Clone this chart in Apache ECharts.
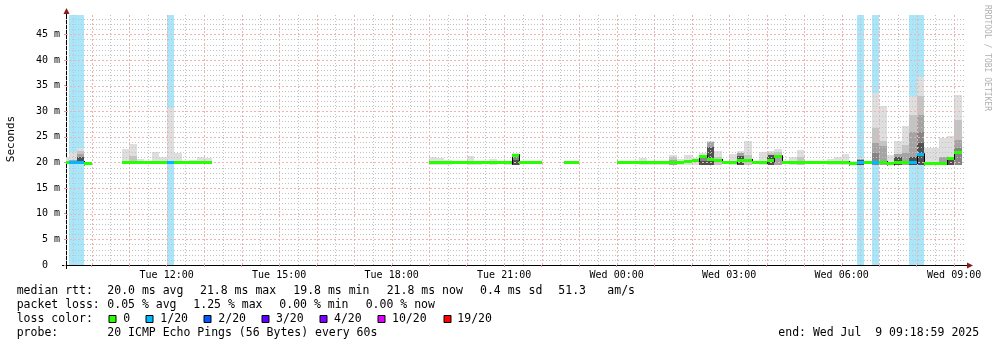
<!DOCTYPE html>
<html><head><meta charset="utf-8">
<script src="https://cdn.jsdelivr.net/npm/echarts@6/dist/echarts.min.js"></script>
<style>html,body{margin:0;padding:0;background:#fff}#c{width:997px;height:347px}</style>
</head><body><div id="c"></div>
<script>
// ---- time frame (hours since Tue 00:00) ----
const START_HOUR = 9 + 18/60 + 59/3600;   // Tue 09:18:59
const END_HOUR = START_HOUR + 24;          // Wed 09:18:59
const FIRST_BUCKET = 9.2;                  // Tue 09:12, 12-minute buckets
const BUCKET_H = 0.2;
const Y_MAX = 48.76;

const xTickHours = [12, 15, 18, 21, 24, 27, 30, 33];
const yTickValues = [0, 5, 10, 15, 20, 25, 30, 35, 40, 45];

// ---- per-bucket data (ms), bucket i starts at FIRST_BUCKET + i*BUCKET_H ----
const median = [
  20.0,20.0,20.0,19.7,null,null,null,null,20.0,20.0,
  20.0,20.0,20.0,20.0,20.0,20.0,20.0,20.0,20.0,20.0,
  null,null,null,null,null,null,null,null,null,null,
  null,null,null,null,null,null,null,null,null,null,
  null,null,null,null,null,null,null,null,null,19.9,
  19.9,19.9,19.9,19.9,19.9,19.9,19.9,19.9,19.9,19.9,
  21.3,19.9,19.9,19.9,null,null,null,19.9,19.9,null,
  null,null,null,null,19.9,19.9,19.9,19.9,19.9,19.9,
  19.9,20.0,20.0,20.2,20.3,21.1,20.6,20.4,20.0,20.0,
  20.4,20.4,20.0,20.0,20.3,21.1,20.0,20.0,20.0,20.0,
  20.0,20.0,20.0,20.0,20.0,19.7,19.9,20.0,20.0,20.0,
  19.7,20.0,20.0,20.0,21.5,19.7,19.7,19.8,20.8,21.9
];
const lossCount = [
  0,1,1,0,0,0,0,0,0,0,
  0,0,0,0,1,0,0,0,0,0,
  0,0,0,0,0,0,0,0,0,0,
  0,0,0,0,0,0,0,0,0,0,
  0,0,0,0,0,0,0,0,0,0,
  0,0,0,0,0,0,0,0,0,0,
  0,0,0,0,0,0,0,0,0,0,
  0,0,0,0,0,0,0,0,0,0,
  0,0,0,0,0,0,0,0,0,0,
  0,0,0,0,0,0,0,0,0,0,
  0,0,0,0,0,0,1,0,1,0,
  0,0,0,1,1,0,0,0,0,0
];
const smokeLo = [
  19.7,19.7,19.7,null,null,null,null,null,19.7,19.7,
  19.7,null,19.7,19.7,19.7,19.7,null,19.7,19.7,19.7,
  null,null,null,null,null,null,null,null,null,null,
  null,null,null,null,null,null,null,null,null,null,
  null,null,null,null,null,null,null,null,null,19.6,
  19.6,19.6,null,null,19.6,19.6,null,19.6,null,19.6,
  19.6,null,null,null,null,null,null,null,null,null,
  null,null,null,null,null,null,null,19.6,19.6,19.6,
  19.6,19.6,19.6,19.6,19.6,19.6,19.5,19.6,null,19.6,
  19.6,19.6,null,19.6,19.6,19.6,null,19.6,19.6,null,
  null,null,19.6,19.6,19.6,19.5,19.6,null,19.6,19.6,
  19.5,19.6,19.6,19.6,19.6,19.5,19.5,19.6,19.5,19.6
];
// smoke band tops, lightest (max) to darkest
const smoke1 = [
  21.1,22.0,22.9,null,null,null,null,null,22.6,23.6,
  20.6,null,22.1,21.1,30.7,21.9,null,20.5,21.0,20.8,
  null,null,null,null,null,null,null,null,null,null,
  null,null,null,null,null,null,null,null,null,null,
  null,null,null,null,null,null,null,null,null,21.0,
  20.8,20.5,null,null,21.3,20.3,null,20.7,null,20.3,
  21.9,null,null,null,null,null,null,null,null,null,
  null,null,null,null,null,null,null,20.9,20.3,20.3,
  20.3,21.5,20.6,21.5,20.8,21.9,24.2,22.2,null,21.6,
  22.2,24.2,null,22.0,22.3,22.6,null,21.0,22.4,null,
  null,null,20.7,21.0,21.6,20.3,20.9,null,33.5,31.1,
  21.5,24.2,27.1,33.0,36.7,22.9,22.9,24.7,25.2,33.2
];
const smoke2 = [
  null,null,22.2,null,null,null,null,null,null,21.2,
  null,null,null,null,null,null,null,null,null,null,
  null,null,null,null,null,null,null,null,null,null,
  null,null,null,null,null,null,null,null,null,null,
  null,null,null,null,null,null,null,null,null,null,
  null,null,null,null,null,null,null,null,null,null,
  21.6,null,null,null,null,null,null,null,null,null,
  null,null,null,null,null,null,null,null,null,null,
  null,21.0,null,null,null,21.5,null,21.0,null,null,
  null,21.5,null,null,21.9,22.1,null,null,21.1,null,
  null,null,null,null,null,null,null,null,26.7,24.2,
  null,null,23.4,29.3,33.0,null,null,null,null,28.3
];
const smoke3 = [
  null,20.5,21.6,null,null,null,null,null,null,null,
  null,null,null,null,null,null,null,null,null,null,
  null,null,null,null,null,null,null,null,null,null,
  null,null,null,null,null,null,null,null,null,null,
  null,null,null,null,null,null,null,null,null,null,
  null,null,null,null,null,null,null,null,null,null,
  null,null,null,null,null,null,null,null,null,null,
  null,null,null,null,null,null,null,null,null,null,
  null,20.5,null,null,null,null,23.9,null,null,null,
  21.9,null,null,null,null,21.5,null,null,null,null,
  null,null,null,null,null,null,20.7,null,23.7,23.2,
  null,21.6,21.8,26.0,29.3,null,null,21.1,null,24.4
];
const smoke4 = [
  null,null,null,null,null,null,null,null,null,null,
  null,null,null,null,null,null,null,null,null,null,
  null,null,null,null,null,null,null,null,null,null,
  null,null,null,null,null,null,null,null,null,null,
  null,null,null,null,null,null,null,null,null,null,
  null,null,null,null,null,null,null,null,null,null,
  21.0,null,null,null,null,null,null,null,null,null,
  null,null,null,null,null,null,null,null,null,null,
  null,null,null,null,null,20.8,null,null,null,null,
  null,null,null,null,null,null,null,null,null,null,
  null,null,null,null,null,null,null,null,21.8,null,
  null,null,null,null,26.0,null,null,null,null,22.8
];
const smoke5 = [
  null,null,21.0,null,null,null,null,null,null,null,
  null,null,null,null,null,null,null,null,null,null,
  null,null,null,null,null,null,null,null,null,null,
  null,null,null,null,null,null,null,null,null,null,
  null,null,null,null,null,null,null,null,null,null,
  null,null,null,null,null,null,null,null,null,null,
  20.4,null,null,null,null,null,null,null,null,null,
  null,null,null,null,null,null,null,null,null,null,
  null,null,null,null,null,20.3,23.0,null,null,null,
  21.2,null,null,null,21.4,null,null,null,null,null,
  null,null,null,null,null,null,20.4,null,null,null,
  null,21.1,null,21.1,23.7,null,null,null,20.5,null
];

const lossLabels = ['0', '1/20', '2/20', '3/20', '4/20', '10/20', '19/20'];
const lossThresholds = [0, 1, 2, 3, 4, 10, 19];
const LOSS_COLORS = ['#26ff00', '#00b8ff', '#0059ff', '#5e00ff', '#7e00ff', '#dd00ff', '#ff0000'];
const SHADES = ['#dedede', '#c4c4c4', '#a4a4a4', '#858585', '#505050'];
const BAND_COLOR = '#aae6fa';
const GRID_GRAY = '#c2c2c2';
const GRID_RED = '#f0b2b2';
const FONT = 'DejaVu Sans Mono';

function lossIndex(n) {
  let idx = 0;
  for (let j = 0; j < lossThresholds.length; j++) if (n >= lossThresholds[j]) idx = j;
  return idx;
}

// ---- build series data ----
const smokeLevels = [smoke1, smoke2, smoke3, smoke4, smoke5];
const bandData = [], smokeData = [], medData = [], edgeData = [];
for (let i = 0; i < median.length; i++) {
  const t0 = FIRST_BUCKET + i * BUCKET_H, t1 = t0 + BUCKET_H;
  if (lossCount[i] > 0) bandData.push([t0, t1, 0, Y_MAX]);
  smokeLevels.forEach((arr, L) => {
    if (arr[i] != null && smokeLo[i] != null) smokeData.push([t0, t1, smokeLo[i], arr[i], L]);
  });
  if (median[i] != null) {
    medData.push([t0, t1, median[i], lossIndex(lossCount[i])]);
    if (i > 0 && median[i - 1] != null && Math.abs(median[i] - median[i - 1]) >= 0.25)
      edgeData.push([t0, median[i - 1], median[i]]);
  }
}
const gridData = [];
for (let h = 9.5; h < END_HOUR; h += 0.5) {
  if (h > START_HOUR) gridData.push([0, h, Number.isInteger(h) ? 1 : 0]);
}
for (let v = 1; v < Y_MAX; v++) gridData.push([1, v, v % 5 === 0 ? 1 : 0]);
const hourTicks = gridData.filter(d => d[0] === 0 && d[2] === 1).map(d => d[1]);

function rectRender(colorFn) {
  return function (params, api) {
    const p0 = api.coord([api.value(0), api.value(3)]);
    const p1 = api.coord([api.value(1), api.value(2)]);
    const x0 = Math.round(p0[0]), x1 = Math.round(p1[0]);
    const y0 = Math.round(p0[1]), y1 = Math.round(p1[1]);
    return { type: 'rect', shape: { x: x0, y: y0, width: x1 - x0, height: y1 - y0 },
      style: { fill: colorFn(api) } };
  };
}

const pad = n => (n < 10 ? '0' : '') + n;

const option = {
  animation: false,
  backgroundColor: '#ffffff',
  grid: { left: 66, top: 15, width: 900, height: 250, containLabel: false },
  xAxis: {
    type: 'value', min: START_HOUR, max: END_HOUR,
    axisLine: { show: true, lineStyle: { color: '#000', width: 1 } },
    axisTick: { show: true, customValues: hourTicks, length: 2, lineStyle: { color: '#e89090' } },
    axisLabel: {
      customValues: xTickHours, margin: 5, color: '#000', fontFamily: FONT, fontSize: 10,
      formatter: v => (v < 24 ? 'Tue ' + pad(v) : 'Wed ' + pad(v - 24)) + ':00'
    },
    splitLine: { show: false }
  },
  yAxis: {
    type: 'value', min: 0, max: Y_MAX,
    axisLine: { show: true, lineStyle: { color: '#000', width: 1 } },
    axisTick: { show: true, customValues: yTickValues, length: 2, lineStyle: { color: '#e89090' } },
    axisLabel: {
      customValues: yTickValues, margin: 6, color: '#000', fontFamily: FONT, fontSize: 10,
      formatter: v => (v === 0 ? '0  ' : v + ' m')
    },
    splitLine: { show: false }
  },
  series: [
    { type: 'custom', name: 'loss band', z: 1, clip: true, data: bandData,
      encode: { x: [0, 1], y: [2, 3] },
      renderItem: rectRender(() => BAND_COLOR) },
    { type: 'custom', name: 'smoke', z: 2, clip: true, data: smokeData,
      encode: { x: [0, 1], y: [2, 3] },
      renderItem: rectRender(api => SHADES[api.value(4)]) },
    { type: 'custom', name: 'grid', z: 3, clip: true, data: gridData, silent: true,
      renderItem: function (params, api) {
        const o = api.value(0), v = api.value(1), major = api.value(2);
        let x1, y1, x2, y2;
        if (o === 0) {
          const a = api.coord([v, 0]), b = api.coord([v, Y_MAX]);
          x1 = x2 = Math.round(a[0]) + 0.5; y1 = a[1]; y2 = b[1];
        } else {
          const a = api.coord([START_HOUR, v]), b = api.coord([END_HOUR, v]);
          y1 = y2 = Math.round(a[1]) + 0.5; x1 = a[0]; x2 = b[0];
        }
        return { type: 'line', shape: { x1, y1, x2, y2 },
          style: { stroke: major ? GRID_RED : GRID_GRAY, lineWidth: 1, lineDash: major ? [2, 2] : [1, 2] } };
      } },
    { type: 'custom', name: 'median steps', z: 4, clip: true, data: edgeData,
      renderItem: function (params, api) {
        const a = api.coord([api.value(0), api.value(1)]);
        const b = api.coord([api.value(0), api.value(2)]);
        const x = Math.round(a[0]) + 0.5;
        return { type: 'line', shape: { x1: x, y1: Math.min(a[1], b[1]) - 1.5, x2: x, y2: Math.max(a[1], b[1]) + 1.5 },
          style: { stroke: '#000', lineWidth: 1 } };
      } },
    { type: 'custom', name: 'median', z: 5, clip: true, data: medData,
      renderItem: function (params, api) {
        const p0 = api.coord([api.value(0), api.value(2)]);
        const p1 = api.coord([api.value(1), api.value(2)]);
        const x0 = Math.round(p0[0]), x1 = Math.round(p1[0]);
        const y = Math.round(p0[1] - 1.5);
        return { type: 'rect', shape: { x: x0, y: y, width: x1 - x0, height: 3 },
          style: { fill: LOSS_COLORS[api.value(3)] } };
      } }
  ],
  graphic: []
};

// ---- decorations & legend text ----
const G = option.graphic;
const txt = (x, y, s, extra) => G.push(Object.assign({ type: 'text', x, y, silent: true,
  style: { text: s, fontFamily: FONT, fontSize: 11.5, fill: '#000', verticalAlign: 'middle', align: 'left' } }, extra || {}));

// axis extensions and arrows
G.push({ type: 'line', silent: true, shape: { x1: 62, y1: 265.5, x2: 968, y2: 265.5 }, style: { stroke: '#000', lineWidth: 1 } });
G.push({ type: 'line', silent: true, shape: { x1: 66.5, y1: 13, x2: 66.5, y2: 269 }, style: { stroke: '#000', lineWidth: 1 } });
G.push({ type: 'polygon', silent: true, shape: { points: [[63.5, 14], [69.5, 14], [66.5, 8]] }, style: { fill: '#8b1a1a' } });
G.push({ type: 'polygon', silent: true, shape: { points: [[967, 262.5], [967, 268.5], [973, 265.5]] }, style: { fill: '#8b1a1a' } });

// vertical unit label
G.push({ type: 'text', x: 11, y: 139, rotation: Math.PI / 2, silent: true,
  style: { text: 'Seconds', fontFamily: FONT, fontSize: 11, fill: '#000', align: 'center', verticalAlign: 'middle' } });
// watermark
G.push({ type: 'text', x: 987, y: 5, rotation: -Math.PI / 2, silent: true,
  style: { text: 'RRDTOOL / TOBI OETIKER', fontFamily: FONT, fontSize: 8, fill: '#b0b0b0', align: 'left', verticalAlign: 'middle' } });

// legend rows
txt(16.7, 291, 'median rtt:');
txt(107.3, 291, '20.0 ms avg');
txt(200, 291, '21.8 ms max');
txt(293.3, 291, '19.8 ms min');
txt(386.7, 291, '21.8 ms now');
txt(480, 291, '0.4 ms sd');
txt(558.3, 291, '51.3');
txt(607.3, 291, 'am/s');

txt(16.7, 305, 'packet loss:');
txt(107.3, 305, '0.05 % avg');
txt(193.3, 305, '1.25 % max');
txt(279.3, 305, '0.00 % min');
txt(365.7, 305, '0.00 % now');

txt(16.7, 319, 'loss color:');
const swatchX = [108.5, 145.5, 203.5, 261.5, 319.5, 377.5, 443.5];
const swatchTextX = [123.3, 160.3, 218.3, 276, 334, 392, 457.3];
lossLabels.forEach((lab, j) => {
  G.push({ type: 'rect', silent: true, shape: { x: swatchX[j] + 0.5, y: 315.5, width: 7, height: 7 },
    style: { fill: LOSS_COLORS[j], stroke: '#000', lineWidth: 1 } });
  txt(swatchTextX[j], 319, lab);
});

txt(16.7, 333, 'probe:');
txt(107.3, 333, '20 ICMP Echo Pings (56 Bytes) every 60s');
txt(778.3, 333, 'end: Wed Jul  9 09:18:59 2025');

const chart = echarts.init(document.getElementById('c'), null, { renderer: 'canvas' });
chart.setOption(option);
</script>
</body></html>
